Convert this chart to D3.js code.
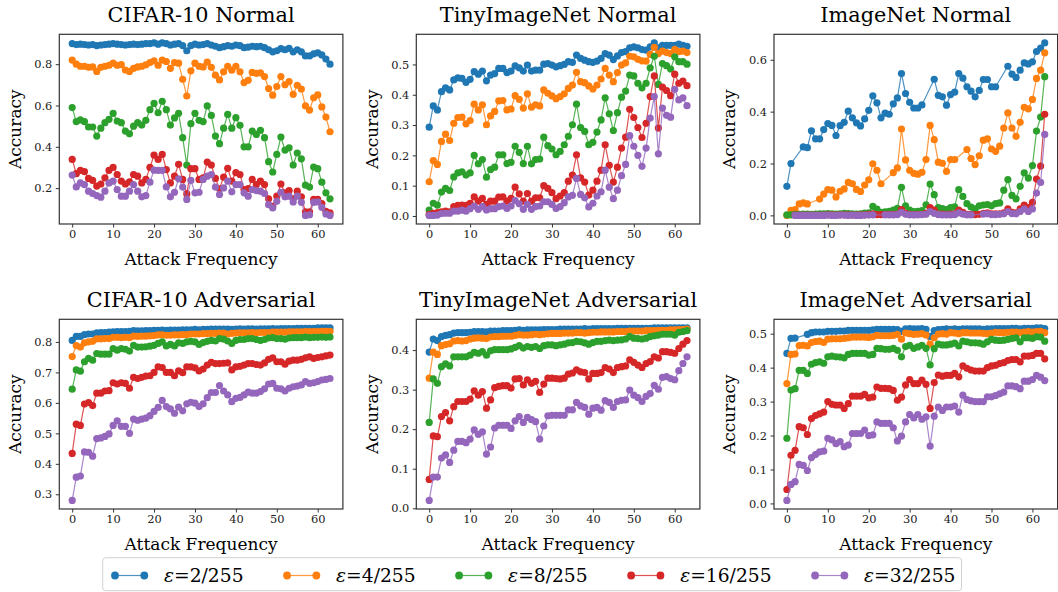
<!DOCTYPE html>
<html><head><meta charset="utf-8">
<script src="https://cdn.jsdelivr.net/npm/d3@7"></script>
<style>body{margin:0;background:#fff}svg{display:block}</style>
</head><body>
<script>
const N = null;
// ---------------- data ----------------
const xTicks = [0,10,20,30,40,50,60];
const seriesLabels = ["2/255","4/255","8/255","16/255","32/255"];
const seriesColors = ["#1f77b4","#ff7f0e","#2ca02c","#d62728","#9467bd"];
const panelTitles = ["CIFAR-10 Normal","TinyImageNet Normal","ImageNet Normal","CIFAR-10 Adversarial","TinyImageNet Adversarial","ImageNet Adversarial"];
const yTicksCifarNormal = [0.2,0.4,0.6,0.8];
const yTicksTinyNormal = [0.0,0.1,0.2,0.3,0.4,0.5];
const yTicksImgNormal = [0.0,0.2,0.4,0.6];
const yTicksCifarAdv = [0.3,0.4,0.5,0.6,0.7,0.8];
const yTicksTinyAdv = [0.0,0.1,0.2,0.3,0.4];
const yTicksImgAdv = [0.0,0.1,0.2,0.3,0.4,0.5];

// CIFAR-10 Normal
const cifarN_e2 = [0.900,0.895,0.897,0.895,0.893,0.895,0.890,0.893,0.895,0.897,0.900,0.897,0.895,0.893,0.895,0.897,0.895,0.897,0.900,0.900,0.903,0.897,0.903,0.900,0.893,0.897,0.900,0.890,0.865,0.890,0.897,0.893,0.895,0.900,0.893,0.887,0.880,0.885,0.890,0.887,0.893,0.890,0.880,0.883,0.887,0.885,0.887,0.880,0.870,0.860,0.865,0.875,0.870,0.877,0.860,0.870,0.860,0.840,0.840,0.850,0.855,0.845,0.825,0.800];
const cifarN_e4 = [0.820,0.800,0.790,0.790,0.785,0.787,0.765,0.785,0.790,0.795,0.805,0.795,0.798,0.772,0.765,0.780,0.787,0.790,0.797,0.808,0.816,0.795,0.820,0.813,0.780,0.808,0.805,0.727,0.646,0.768,0.805,0.790,0.787,0.810,0.785,0.747,0.724,0.763,0.790,0.771,0.790,0.763,0.711,0.722,0.760,0.756,0.758,0.740,0.682,0.650,0.692,0.740,0.700,0.716,0.654,0.698,0.680,0.598,0.578,0.637,0.651,0.593,0.544,0.473];
const cifarN_e8 = [0.590,0.522,0.530,0.522,0.496,0.496,0.452,0.490,0.517,0.533,0.562,0.525,0.517,0.476,0.463,0.500,0.517,0.505,0.528,0.580,0.610,0.565,0.620,0.580,0.505,0.540,0.562,0.444,0.312,0.512,0.562,0.528,0.522,0.598,0.552,0.452,0.415,0.490,0.557,0.490,0.541,0.504,0.400,0.400,0.476,0.460,0.480,0.444,0.328,0.278,0.363,0.447,0.384,0.395,0.312,0.370,0.342,0.214,0.205,0.302,0.294,0.229,0.177,0.148];
const cifarN_e16 = [0.339,0.270,0.286,0.280,0.247,0.237,0.210,0.220,0.250,0.286,0.300,0.266,0.234,0.220,0.230,0.266,0.258,0.225,0.242,0.300,0.360,0.339,0.363,0.290,0.225,0.258,0.315,0.242,0.172,0.294,0.294,0.242,0.250,0.326,0.312,0.247,0.197,0.253,0.296,0.234,0.275,0.266,0.193,0.198,0.242,0.217,0.234,0.217,0.148,0.112,0.161,0.220,0.177,0.188,0.148,0.185,0.158,0.085,0.085,0.145,0.145,0.125,0.088,0.080];
const cifarN_e32 = [0.263,0.206,0.225,0.217,0.185,0.174,0.164,0.156,0.185,0.225,0.234,0.193,0.161,0.161,0.185,0.217,0.185,0.158,0.164,0.229,0.287,0.286,0.286,0.206,0.158,0.180,0.245,0.205,0.145,0.237,0.177,0.180,0.242,0.258,0.266,0.205,0.169,0.201,0.234,0.182,0.217,0.217,0.177,0.161,0.193,0.188,0.185,0.174,0.120,0.104,0.136,0.180,0.158,0.161,0.133,0.161,0.131,0.068,0.071,0.131,0.133,0.107,0.075,0.068];

// TinyImageNet Normal
const tinyN_e2 = [0.293,0.363,0.350,0.410,0.423,0.416,0.449,0.456,0.454,0.441,0.451,0.476,0.468,0.478,0.446,0.465,0.470,0.487,0.487,0.473,0.478,0.495,0.489,0.478,0.498,0.478,0.481,0.481,0.501,0.503,0.498,0.492,0.496,0.500,0.509,0.507,0.531,0.520,0.514,0.509,0.507,0.511,0.520,0.536,0.531,0.516,0.528,0.539,0.542,0.555,0.558,0.555,0.549,0.547,0.558,0.571,0.555,0.563,0.563,0.563,0.563,0.567,0.563,0.560];
const tinyN_e4 = [0.113,0.183,0.170,0.246,0.270,0.249,0.306,0.325,0.326,0.304,0.315,0.369,0.350,0.367,0.301,0.330,0.345,0.380,0.381,0.350,0.353,0.397,0.385,0.356,0.403,0.359,0.367,0.363,0.416,0.405,0.396,0.387,0.394,0.403,0.421,0.432,0.474,0.443,0.440,0.429,0.419,0.432,0.452,0.487,0.465,0.443,0.473,0.498,0.505,0.527,0.525,0.517,0.512,0.511,0.533,0.556,0.536,0.544,0.539,0.536,0.550,0.542,0.544,0.539];
const tinyN_e8 = [0.019,0.042,0.036,0.079,0.091,0.084,0.129,0.142,0.146,0.135,0.142,0.200,0.172,0.186,0.128,0.153,0.161,0.202,0.202,0.173,0.177,0.230,0.210,0.173,0.230,0.172,0.186,0.188,0.260,0.232,0.221,0.202,0.213,0.235,0.263,0.301,0.369,0.292,0.279,0.235,0.243,0.277,0.317,0.390,0.337,0.282,0.341,0.392,0.412,0.465,0.462,0.438,0.423,0.438,0.489,0.527,0.434,0.503,0.496,0.485,0.525,0.509,0.509,0.501];
const tinyN_e16 = [0.005,0.009,0.011,0.014,0.016,0.014,0.031,0.035,0.036,0.035,0.042,0.063,0.049,0.058,0.038,0.049,0.049,0.062,0.063,0.049,0.058,0.095,0.073,0.049,0.074,0.049,0.060,0.060,0.100,0.091,0.077,0.057,0.066,0.077,0.115,0.135,0.202,0.126,0.112,0.069,0.085,0.115,0.151,0.235,0.167,0.112,0.161,0.224,0.260,0.352,0.325,0.292,0.259,0.306,0.394,0.462,0.290,0.425,0.414,0.397,0.468,0.438,0.445,0.430];
const tinyN_e32 = [0.002,0.002,0.003,0.008,0.009,0.009,0.016,0.016,0.019,0.016,0.024,0.033,0.022,0.031,0.020,0.024,0.024,0.031,0.033,0.025,0.033,0.051,0.040,0.022,0.038,0.022,0.031,0.033,0.047,0.047,0.038,0.025,0.031,0.044,0.063,0.068,0.124,0.071,0.060,0.030,0.042,0.066,0.080,0.151,0.095,0.057,0.085,0.133,0.170,0.265,0.230,0.200,0.164,0.224,0.323,0.394,0.205,0.356,0.332,0.326,0.418,0.383,0.390,0.364];

// ImageNet Normal (null = no point recorded)
const imgN_e2 = [0.112,0.200,N,N,0.264,0.261,0.326,0.295,0.295,0.331,0.354,0.347,0.308,0.346,0.359,0.402,0.376,0.357,0.345,0.372,0.405,0.461,0.434,0.376,0.394,0.390,0.430,0.453,0.547,0.470,0.436,0.414,0.414,0.426,N,N,0.525,0.463,0.457,0.425,0.466,0.475,0.547,0.529,0.496,0.479,0.457,0.482,0.524,0.524,0.496,0.496,N,N,0.575,0.545,0.532,0.560,0.588,0.584,0.592,0.632,0.645,0.665];
const imgN_e4 = [0.000,0.019,0.022,0.044,0.048,0.044,N,N,0.063,0.082,0.099,0.097,0.071,0.093,0.102,0.127,0.122,0.100,0.092,0.117,0.137,0.199,0.174,0.122,N,N,0.165,0.183,0.333,0.214,0.174,0.162,0.159,0.166,0.215,0.347,0.292,0.205,0.201,0.170,0.215,0.215,N,N,0.254,0.219,0.196,0.230,0.290,0.295,0.256,0.247,0.267,0.337,0.395,0.337,0.305,0.359,0.417,0.411,0.447,0.528,0.560,0.627];
const imgN_e8 = [0.002,0.002,0.004,0.004,0.005,0.005,0.004,0.005,0.006,0.006,0.007,0.006,0.005,0.006,0.008,0.007,0.006,0.005,0.006,0.009,0.010,0.035,0.024,0.012,0.014,0.016,0.020,0.027,0.108,0.037,0.020,0.015,0.016,0.018,0.041,0.121,0.080,0.030,0.026,0.022,0.030,0.033,0.099,0.073,0.045,0.032,0.025,0.037,0.040,0.042,0.037,0.045,0.048,0.097,0.138,0.077,0.064,0.112,0.164,0.144,0.192,0.325,0.379,0.535];
const imgN_e16 = [N,N,0.001,0.001,0.001,0.001,0.001,0.001,0.001,0.001,0.002,0.002,0.001,0.002,0.002,0.002,0.001,0.001,0.002,0.002,0.004,0.006,0.003,0.003,0.004,0.004,0.004,0.005,0.022,0.008,0.004,0.003,0.004,0.004,0.008,0.030,0.020,0.005,0.005,0.004,0.005,0.006,0.020,0.012,0.004,0.004,0.003,0.004,0.008,0.010,0.006,0.006,0.006,0.010,0.025,0.012,0.010,0.025,0.040,0.030,0.050,0.140,0.190,0.390];
const imgN_e32 = [N,N,0.000,0.000,0.000,0.000,0.000,0.000,0.000,0.000,0.001,0.000,0.000,0.001,0.001,0.000,0.001,0.000,0.000,0.001,0.001,0.002,N,N,0.002,0.002,0.002,0.003,0.012,0.004,0.002,0.002,0.002,0.003,0.004,0.015,0.008,0.003,0.002,0.002,0.002,0.003,0.010,0.005,0.002,0.002,N,N,0.005,0.006,0.003,0.003,0.004,0.006,0.015,0.007,0.006,0.015,0.025,0.015,0.025,0.086,0.127,0.312];

// CIFAR-10 Adversarial
const cifarA_e2 = [0.805,0.818,0.818,0.824,0.826,0.826,0.830,0.831,0.831,0.832,0.833,0.834,0.834,0.834,0.835,0.837,0.836,0.836,0.837,0.837,0.838,0.838,0.839,0.838,0.839,0.839,0.839,0.840,0.840,0.840,0.841,0.840,0.841,0.841,0.842,0.842,0.842,0.842,0.842,0.841,0.842,0.843,0.842,0.843,0.843,0.842,0.843,0.843,0.843,0.844,0.843,0.844,0.844,0.844,0.844,0.845,0.845,0.845,0.845,0.845,0.846,0.846,0.846,0.846];
const cifarA_e4 = [0.752,0.788,0.783,0.797,0.800,0.802,0.810,0.810,0.811,0.811,0.815,0.815,0.814,0.815,0.814,0.819,0.818,0.819,0.819,0.820,0.821,0.823,0.823,0.822,0.822,0.823,0.823,0.824,0.824,0.826,0.826,0.826,0.827,0.827,0.828,0.828,0.829,0.829,0.826,0.828,0.829,0.830,0.830,0.830,0.831,0.830,0.831,0.831,0.831,0.832,0.832,0.832,0.832,0.833,0.833,0.833,0.833,0.834,0.834,0.834,0.834,0.835,0.835,0.835];
const cifarA_e8 = [0.645,0.708,0.704,0.735,0.746,0.740,0.762,0.760,0.760,0.760,0.778,0.773,0.778,0.776,0.770,0.789,0.783,0.783,0.784,0.786,0.789,0.795,0.800,0.787,0.792,0.787,0.797,0.795,0.800,0.802,0.800,0.792,0.798,0.802,0.805,0.803,0.811,0.809,0.803,0.795,0.805,0.808,0.808,0.811,0.811,0.808,0.805,0.808,0.813,0.814,0.811,0.811,0.809,0.813,0.814,0.814,0.814,0.816,0.814,0.815,0.815,0.816,0.815,0.816];
const cifarA_e16 = [0.434,0.530,0.526,0.596,0.601,0.591,0.632,0.632,0.639,0.640,0.666,0.662,0.666,0.664,0.648,0.684,0.680,0.684,0.688,0.689,0.700,0.718,0.716,0.700,0.700,0.689,0.705,0.699,0.718,0.718,0.715,0.705,0.711,0.724,0.733,0.729,0.729,0.730,0.731,0.708,0.718,0.720,0.724,0.729,0.729,0.726,0.724,0.731,0.743,0.748,0.735,0.735,0.727,0.737,0.740,0.740,0.743,0.748,0.751,0.746,0.749,0.751,0.754,0.757];
const cifarA_e32 = [0.280,0.356,0.360,0.439,0.438,0.425,0.483,0.485,0.490,0.498,0.526,0.541,0.523,0.523,0.500,0.547,0.543,0.547,0.550,0.558,0.572,0.585,0.608,0.588,0.580,0.566,0.586,0.574,0.597,0.602,0.599,0.588,0.597,0.617,0.634,0.634,0.657,0.639,0.626,0.604,0.615,0.618,0.626,0.635,0.632,0.632,0.637,0.646,0.662,0.664,0.648,0.646,0.639,0.648,0.653,0.655,0.659,0.670,0.664,0.666,0.670,0.675,0.677,0.680];

// TinyImageNet Adversarial
const tinyA_e2 = [0.395,0.428,0.424,0.434,0.437,0.439,0.443,0.444,0.444,0.444,0.445,0.447,0.447,0.447,0.446,0.448,0.448,0.448,0.449,0.449,0.449,0.450,0.451,0.450,0.451,0.451,0.451,0.451,0.452,0.452,0.452,0.452,0.453,0.453,0.453,0.453,0.453,0.453,0.454,0.453,0.454,0.454,0.454,0.454,0.454,0.454,0.455,0.455,0.455,0.455,0.455,0.455,0.455,0.455,0.455,0.456,0.456,0.456,0.456,0.456,0.456,0.456,0.456,0.456];
const tinyA_e4 = [0.329,0.395,0.389,0.411,0.414,0.416,0.423,0.424,0.423,0.424,0.428,0.430,0.431,0.430,0.429,0.433,0.434,0.434,0.435,0.435,0.435,0.437,0.439,0.438,0.438,0.439,0.440,0.439,0.440,0.441,0.442,0.442,0.442,0.443,0.443,0.443,0.444,0.444,0.443,0.444,0.445,0.445,0.446,0.446,0.446,0.446,0.447,0.447,0.447,0.448,0.448,0.448,0.448,0.449,0.449,0.449,0.450,0.450,0.450,0.451,0.451,0.452,0.452,0.453];
const tinyA_e8 = [0.217,0.327,0.316,0.358,0.365,0.360,0.383,0.383,0.383,0.383,0.387,0.394,0.392,0.396,0.387,0.398,0.401,0.401,0.401,0.401,0.403,0.407,0.411,0.405,0.409,0.407,0.409,0.404,0.411,0.413,0.413,0.411,0.413,0.415,0.418,0.419,0.422,0.421,0.418,0.415,0.419,0.422,0.422,0.424,0.425,0.424,0.425,0.426,0.428,0.434,0.430,0.429,0.428,0.430,0.434,0.436,0.438,0.440,0.440,0.440,0.438,0.445,0.447,0.449];
const tinyA_e16 = [0.073,0.183,0.181,0.232,0.242,0.221,0.257,0.270,0.270,0.270,0.276,0.297,0.286,0.295,0.253,0.274,0.305,0.308,0.310,0.310,0.304,0.327,0.328,0.312,0.325,0.316,0.321,0.293,0.314,0.329,0.329,0.328,0.327,0.329,0.339,0.342,0.350,0.345,0.343,0.327,0.341,0.341,0.343,0.356,0.352,0.343,0.356,0.358,0.360,0.375,0.369,0.362,0.356,0.366,0.371,0.383,0.380,0.396,0.396,0.394,0.392,0.404,0.415,0.424];
const tinyA_e32 = [0.020,0.079,0.079,0.127,0.135,0.116,0.147,0.169,0.169,0.166,0.175,0.198,0.187,0.193,0.137,0.155,0.203,0.210,0.210,0.210,0.202,0.221,0.232,0.217,0.230,0.224,0.219,0.175,0.208,0.234,0.235,0.235,0.235,0.235,0.249,0.249,0.268,0.259,0.255,0.238,0.253,0.255,0.248,0.272,0.268,0.255,0.270,0.273,0.274,0.299,0.286,0.280,0.270,0.283,0.290,0.311,0.301,0.331,0.333,0.328,0.325,0.348,0.366,0.383];

// ImageNet Adversarial
const imgA_e2 = [0.442,0.486,0.487,N,N,0.498,0.503,0.505,0.505,0.505,0.507,0.507,0.507,0.508,0.508,0.510,0.510,0.510,0.510,0.510,0.510,0.511,0.513,0.513,0.513,0.513,0.513,0.512,0.507,0.514,0.515,0.514,0.514,0.515,0.513,0.492,0.509,0.512,0.513,0.514,0.513,0.514,0.513,0.514,0.514,0.514,0.514,0.514,0.513,0.514,0.514,0.515,0.515,0.515,0.515,0.516,0.516,0.514,0.516,0.516,0.516,0.517,0.517,0.515];
const imgA_e4 = [0.353,0.439,0.440,0.465,0.466,0.464,0.474,0.477,0.478,0.474,0.484,0.485,0.485,0.485,0.486,0.488,0.490,0.490,0.490,0.490,0.489,0.491,0.495,0.494,0.494,0.494,0.495,0.498,0.484,0.502,0.500,0.498,0.499,0.500,0.496,0.469,0.488,0.499,0.500,0.499,0.503,0.502,0.500,0.503,0.503,0.502,0.502,0.502,0.501,0.500,0.502,0.504,0.503,0.503,0.504,0.505,0.505,0.503,0.505,0.506,0.505,0.506,0.507,0.503];
const imgA_e8 = [0.192,0.334,0.338,0.392,0.392,0.383,0.410,0.415,0.417,0.413,0.432,0.434,0.432,0.431,0.429,0.439,0.442,0.442,0.442,0.442,0.437,0.439,0.457,0.456,0.454,0.454,0.457,0.451,0.432,0.462,0.466,0.457,0.461,0.466,0.457,0.408,0.456,0.469,0.467,0.467,0.469,0.472,0.464,0.478,0.476,0.473,0.473,0.472,0.469,0.476,0.483,0.481,0.480,0.481,0.483,0.486,0.488,0.476,0.488,0.488,0.486,0.491,0.490,0.478];
const imgA_e16 = [0.041,0.142,0.156,0.226,0.223,0.203,0.250,0.259,0.264,0.269,0.300,0.292,0.290,0.290,0.280,0.294,0.316,0.316,0.316,0.321,0.311,0.313,0.343,0.339,0.339,0.338,0.333,0.304,0.313,0.349,0.365,0.353,0.353,0.363,0.351,0.280,0.356,0.378,0.375,0.377,0.377,0.383,0.373,0.405,0.398,0.393,0.390,0.390,0.390,0.400,0.405,0.407,0.412,0.415,0.421,0.424,0.424,0.417,0.434,0.434,0.436,0.442,0.442,0.426];
const imgA_e32 = [0.009,0.056,0.064,0.115,0.112,0.097,0.135,0.144,0.152,0.154,0.192,0.187,0.176,0.182,0.167,0.172,0.206,0.206,0.206,0.216,0.200,0.202,0.240,0.236,0.236,0.236,0.223,0.184,0.198,0.240,0.262,0.252,0.262,0.248,0.255,0.169,0.257,0.284,0.274,0.284,0.284,0.287,0.269,0.319,0.306,0.302,0.300,0.300,0.300,0.314,0.314,0.318,0.323,0.328,0.346,0.346,0.344,0.338,0.360,0.360,0.365,0.377,0.372,0.362];

const panelSeries = [
  [cifarN_e2,cifarN_e4,cifarN_e8,cifarN_e16,cifarN_e32],
  [tinyN_e2,tinyN_e4,tinyN_e8,tinyN_e16,tinyN_e32],
  [imgN_e2,imgN_e4,imgN_e8,imgN_e16,imgN_e32],
  [cifarA_e2,cifarA_e4,cifarA_e8,cifarA_e16,cifarA_e32],
  [tinyA_e2,tinyA_e4,tinyA_e8,tinyA_e16,tinyA_e32],
  [imgA_e2,imgA_e4,imgA_e8,imgA_e16,imgA_e32]
];
const panelYTicks = [yTicksCifarNormal,yTicksTinyNormal,yTicksImgNormal,yTicksCifarAdv,yTicksTinyAdv,yTicksImgAdv];

// ---------------- layout ----------------
const W = 1058, H = 592;
const plotLefts = [59.3, 416.3, 774];
const plotTops = [34.3, 319.3];
const plotW = 283.6, plotH = 189.7;
const SERIF = "'DejaVu Serif', serif";
const frameColor = "#333";

const svg = d3.select("body").append("svg").attr("width", W).attr("height", H);
svg.append("rect").attr("width", W).attr("height", H).attr("fill", "#fff");

panelSeries.forEach((series, k) => {
  const col = k % 3, row = Math.floor(k / 3);
  const L = plotLefts[col], T = plotTops[row];
  const g = svg.append("g");
  const x = d3.scaleLinear().domain([-3.15, 66.15]).range([L, L + plotW]);
  const allVals = series.flat().filter(v => v !== null);
  const [mn, mx] = d3.extent(allVals);
  const pad = 0.05 * (mx - mn);
  const y = d3.scaleLinear().domain([mn - pad, mx + pad]).range([T + plotH, T]);

  // series
  const line = d3.line().x(d => x(d.i)).y(d => y(d.v));
  series.forEach((vals, s) => {
    const pts = vals.map((v, i) => ({i, v})).filter(d => d.v !== null);
    const sg = g.append("g");
    sg.append("path").attr("d", line(pts)).attr("fill", "none")
      .attr("stroke", seriesColors[s]).attr("stroke-width", 1.2).attr("stroke-opacity", 0.8);
    sg.selectAll("circle").data(pts).join("circle")
      .attr("cx", d => x(d.i)).attr("cy", d => y(d.v)).attr("r", 3.6)
      .attr("fill", seriesColors[s]);
  });

  // axes
  const xAxis = g.append("g").attr("transform", `translate(0,${T + plotH})`)
    .call(d3.axisBottom(x).tickValues(xTicks).tickSize(3.5).tickPadding(2.5).tickFormat(d3.format("d")));
  const yAxis = g.append("g").attr("transform", `translate(${L},0)`)
    .call(d3.axisLeft(y).tickValues(panelYTicks[k]).tickSize(3.5).tickPadding(3.5).tickFormat(d3.format(".1f")));
  [xAxis, yAxis].forEach(a => {
    a.select(".domain").remove();
    a.selectAll("line").attr("stroke", frameColor).attr("stroke-width", 1);
    a.selectAll("text").attr("fill", "#222").style("font-family", SERIF).style("font-size", "11.4px");
  });

  // frame
  g.append("rect").attr("x", L).attr("y", T).attr("width", plotW).attr("height", plotH)
    .attr("fill", "none").attr("stroke", frameColor).attr("stroke-width", 1.2);

  // title and labels
  g.append("text").attr("x", L + plotW / 2).attr("y", T - 12.5).attr("text-anchor", "middle")
    .style("font-family", SERIF).style("font-size", "20.8px").attr("fill", "#000").text(panelTitles[k]);
  g.append("text").attr("x", L + plotW / 2).attr("y", T + plotH + 40.5).attr("text-anchor", "middle")
    .style("font-family", SERIF).style("font-size", "17px").attr("fill", "#000").text("Attack Frequency");
  g.append("text").attr("transform", `translate(${L - 38.6},${T + plotH / 2}) rotate(-90)`)
    .attr("text-anchor", "middle")
    .style("font-family", SERIF).style("font-size", "17px").attr("fill", "#000").text("Accuracy");
});

// ---------------- legend ----------------
const leg = svg.append("g");
const legBox = leg.append("rect");
const legY = 575.5;
const legGap = 43.5;
let cx = 115;
seriesLabels.forEach((lab, s) => {
  const c = seriesColors[s];
  leg.append("line").attr("x1", cx).attr("x2", cx + 29.3).attr("y1", legY).attr("y2", legY)
    .attr("stroke", c).attr("stroke-width", 1.2).attr("stroke-opacity", 0.8);
  leg.append("circle").attr("cx", cx).attr("cy", legY).attr("r", 3.9).attr("fill", c);
  leg.append("circle").attr("cx", cx + 29.3).attr("cy", legY).attr("r", 3.9).attr("fill", c);
  const t = leg.append("text").attr("x", cx + 49).attr("y", legY + 6.4)
    .style("font-family", SERIF).style("font-size", "18.7px").attr("fill", "#000");
  t.append("tspan").style("font-style", "italic").text("ε");
  t.append("tspan").text("=" + lab);
  const w = t.node().getComputedTextLength();
  cx = cx + 49 + w + legGap;
});
const legRight = cx - legGap + 6;
legBox.attr("x", 102.7).attr("y", 557.7).attr("width", legRight - 102.7).attr("height", 33)
  .attr("rx", 3).attr("fill", "#fff").attr("fill-opacity", 0.8).attr("stroke", "#d0d0d0").attr("stroke-width", 1);
</script>
</body></html>
